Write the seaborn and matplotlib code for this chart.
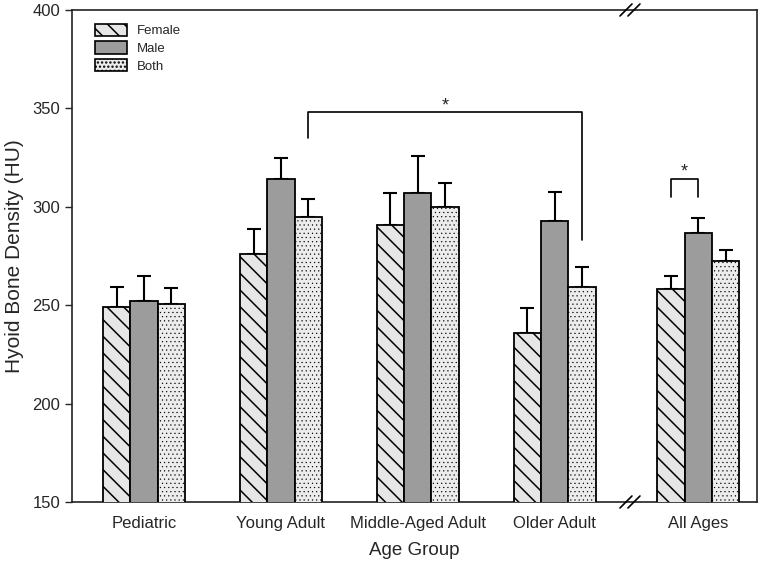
import matplotlib
matplotlib.use("Agg")
import matplotlib.pyplot as plt
from matplotlib.patches import Patch
import seaborn as sns
import pandas as pd
import numpy as np

# ---- data ----
groups = ["Pediatric", "Young Adult", "Middle-Aged Adult", "Older Adult", "All Ages"]
group_pos = [0, 1, 2, 3, 4.05]
sexes = ["Female", "Male", "Both"]
female_mean = [249, 276, 291, 236, 258]
female_sem = [10, 12.5, 16, 12.5, 7]
male_mean = [252, 314, 307, 293, 286.5]
male_sem = [13, 11, 19, 14.5, 8]
both_mean = [250.5, 295, 300, 259, 272.5]
both_sem = [8, 9, 12, 10.5, 5.5]
y_ticks = [150, 200, 250, 300, 350, 400]

means = {"Female": female_mean, "Male": male_mean, "Both": both_mean}
sems = {"Female": female_sem, "Male": male_sem, "Both": both_sem}

rows = []
for s in sexes:
    for g, p, m, e in zip(groups, group_pos, means[s], sems[s]):
        rows.append({"pos": p, "group": g, "sex": s, "value": m, "sem": e})
df = pd.DataFrame(rows)

sns.set_style("ticks")
plt.rcParams["font.family"] = ["Liberation Sans", "DejaVu Sans"]
plt.rcParams["hatch.linewidth"] = 1.1
plt.rcParams["hatch.color"] = "black"

fig = plt.figure(figsize=(7.67, 5.65), dpi=100)
ax = fig.add_axes([72 / 767, 1 - 502 / 565, (757 - 72) / 767, (502 - 10) / 565])

palette = {"Female": "#e6e6e6", "Male": "#9c9c9c", "Both": "#ececec"}
hatches = {"Female": "\\\\", "Male": "", "Both": "...."}
hatch_lw = {"Female": 1.1, "Male": 1.0, "Both": 0.35}


def style_hatch(p, s):
    p.set_hatch(hatches[s])
    if hasattr(p, "set_hatch_linewidth"):
        p.set_hatch_linewidth(hatch_lw[s])
    if s == "Both" and hasattr(p, "set_hatchcolor"):
        p.set_hatchcolor("#555555")


sns.barplot(data=df, x="pos", y="value", hue="sex", hue_order=sexes,
            palette=palette, native_scale=True, width=0.6, dodge=True,
            errorbar=None, saturation=1, edgecolor="black", linewidth=1.3,
            legend=False, ax=ax, zorder=3)

bw = 0.2
for i, s in enumerate(sexes):
    cont = ax.containers[i]
    for bar in cont:
        style_hatch(bar, s)
    xs = np.array(group_pos) + (i - 1) * bw
    ax.errorbar(xs, means[s], yerr=[np.zeros(len(xs)), sems[s]], fmt="none",
                ecolor="black", elinewidth=1.5, capsize=5.2, capthick=1.5, zorder=2)

ax.set_ylim(150, 400)
ax.set_xlim(-0.526, 4.478)
ax.set_yticks(y_ticks)
ax.set_xticks(group_pos)
ax.set_xticklabels(groups)
ax.tick_params(axis="x", length=0, labelsize=12, pad=10)
ax.tick_params(axis="y", length=5, width=1, labelsize=12, direction="out")
for sp in ax.spines.values():
    sp.set_visible(True)
    sp.set_linewidth(1.2)
    sp.set_color("#222222")
ax.set_xlabel("Age Group", fontsize=13.5, labelpad=8)
ax.set_ylabel("Hyoid Bone Density (HU)", fontsize=15, labelpad=6)

# axis break marks
trans = ax.get_xaxis_transform()
xb = 3.55
dx = 6 / 136.9
dy = 6 / 492
for yb in (0, 1):
    for off in (-4 / 136.9, 4 / 136.9):
        ax.plot([xb + off - dx, xb + off + dx], [yb - dy, yb + dy], color="black",
                lw=1.2, transform=trans, clip_on=False, zorder=5)

# significance brackets
ax.plot([1.2, 1.2, 3.2, 3.2], [335, 348, 348, 283], color="black", lw=1.2, zorder=4)
ax.text(2.2, 347, "*", ha="center", va="bottom", fontsize=13)
ax.plot([3.85, 3.85, 4.05, 4.05], [305, 314, 314, 305], color="black", lw=1.2, zorder=4)
ax.text(3.95, 313.5, "*", ha="center", va="bottom", fontsize=13)

handles = []
for s in sexes:
    h = Patch(facecolor=palette[s], edgecolor="black", lw=1.2, label=s)
    style_hatch(h, s)
    handles.append(h)
ax.legend(handles=handles, loc="upper left", bbox_to_anchor=(0.0336, 0.972),
          frameon=False, fontsize=9.5, handlelength=2.4, handleheight=1.05,
          labelspacing=0.3, borderpad=0, borderaxespad=0, handletextpad=0.8)

fig.savefig("out.png", dpi=100)
